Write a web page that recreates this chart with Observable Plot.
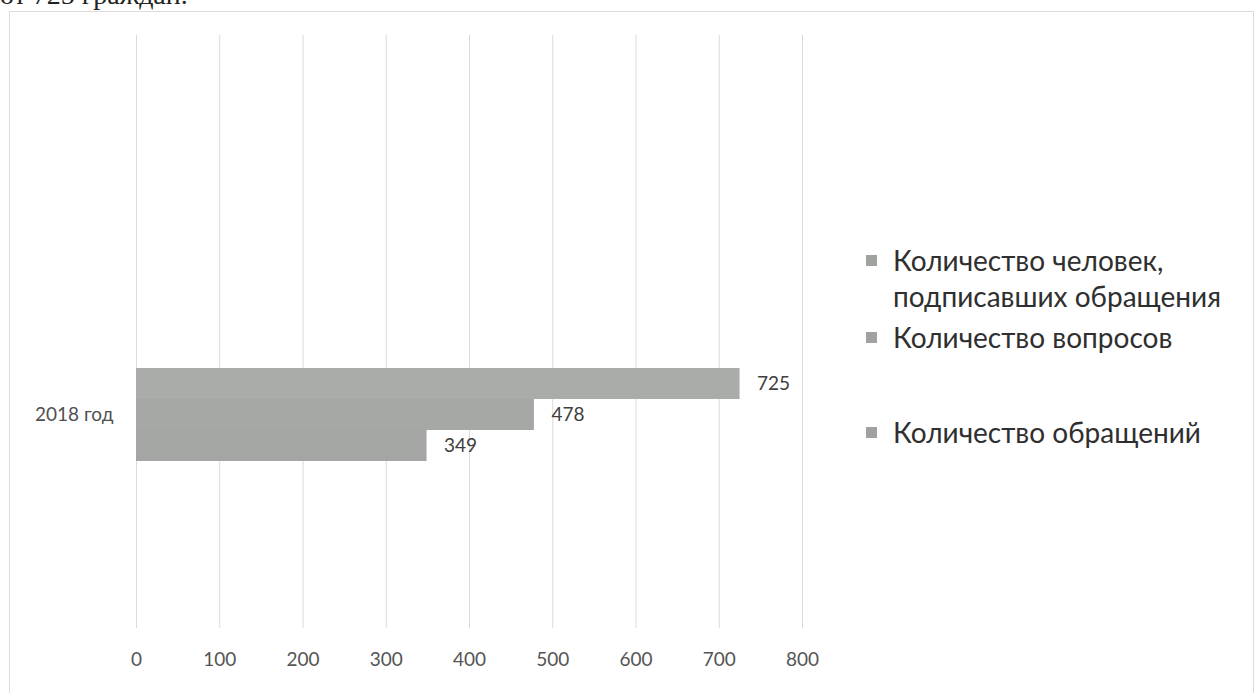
<!DOCTYPE html>
<html>
<head>
<meta charset="utf-8">
<script src="https://cdn.jsdelivr.net/npm/d3@7"></script>
<script src="https://cdn.jsdelivr.net/npm/@observablehq/plot@0.6"></script>
<style>
  html, body { margin: 0; padding: 0; background: #fff; }
  body { width: 1257px; height: 693px; position: relative; overflow: hidden; }
  #caption { position: absolute; left: 0; top: -19px; font-family: "Liberation Serif", serif; font-size: 28px; line-height: 28px; color: #222; white-space: nowrap; }
  #box { position: absolute; left: 9px; top: 11px; width: 1245px; height: 700px; border: 1px solid #dcdcdc; box-sizing: border-box; }
  #chart { position: absolute; left: 0; top: 0; }
  .leg { position: absolute; font-family: Lato, "Noto Sans", sans-serif; font-size: 28px; line-height: 32px; color: #2f2f2f; white-space: nowrap; }
  .sw { position: absolute; width: 11px; height: 11px; background: #a0a2a0; }
</style>
</head>
<body>
<div id="caption">от 725 граждан.</div>
<div id="box"></div>
<div id="chart"></div>
<div id="legend"></div>
<script>
const categories = ["2018 год"];
const series = ["Количество человек, подписавших обращения", "Количество вопросов", "Количество обращений"];
const values = [725, 478, 349];
const xTicks = [0, 100, 200, 300, 400, 500, 600, 700, 800];
const legendLines = [["Количество человек,", "подписавших обращения"], ["Количество вопросов"], ["Количество обращений"]];
const barColors = ["#aaaca9", "#a6a8a5", "#a4a6a3"];

const data = series.map((s, i) => ({series: s, value: values[i], category: categories[0]}));

const chart = Plot.plot({
  width: 1257,
  height: 693,
  marginLeft: 136,
  marginRight: 455,
  marginTop: 35,
  marginBottom: 65,
  style: {fontFamily: "Lato, 'Noto Sans', sans-serif", background: "transparent"},
  x: {domain: [0, 800], axis: null},
  y: {domain: series, range: [368, 461], padding: 0, axis: null},
  color: {domain: series, range: barColors},
  marks: [
    Plot.ruleX(xTicks, {stroke: "#dadada", strokeWidth: 1}),
    Plot.barX(data, {x: "value", y: "series", fill: "series"}),
    Plot.text(data, {x: "value", y: "series", text: d => String(d.value), textAnchor: "start", dx: 17, fontSize: 19, fill: "#404040"}),
    Plot.text(categories, {x: () => 0, y: () => series[1], text: d => d, textAnchor: "end", dx: -23, fontSize: 19, fill: "#505050"}),
    Plot.axisX({ticks: xTicks, tickSize: 0, tickPadding: 24, fontSize: 19, fill: "#555", label: null, tickFormat: d => String(d)})
  ]
});
document.getElementById("chart").appendChild(chart);

// legend
const legend = document.getElementById("legend");
const lineCenters = [[260, 296], [337], [432]];
legendLines.forEach((lines, i) => {
  const sw = document.createElement("div");
  sw.className = "sw";
  sw.style.left = "866px";
  sw.style.top = (lineCenters[i][0] - 5) + "px";
  legend.appendChild(sw);
  lines.forEach((t, j) => {
    const d = document.createElement("div");
    d.className = "leg";
    d.textContent = t;
    d.style.left = "893px";
    d.style.top = (lineCenters[i][j] - 16) + "px";
    legend.appendChild(d);
  });
});
</script>
</body>
</html>
